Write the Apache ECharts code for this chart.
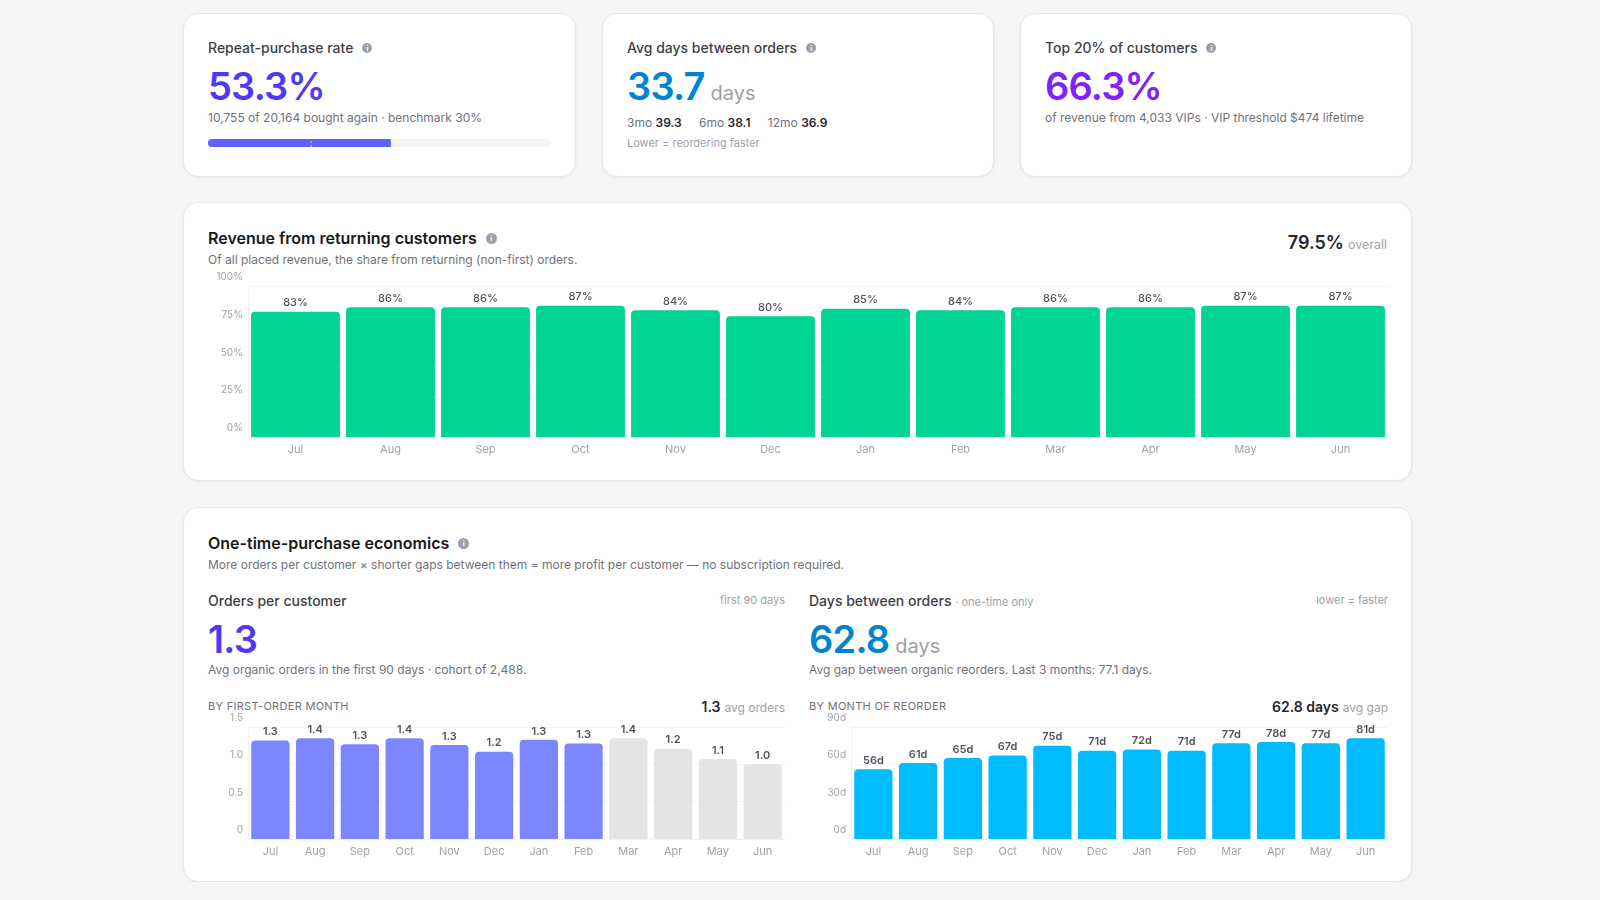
<!DOCTYPE html>
<html lang="en">
<head>
<meta charset="UTF-8">
<title>Repeat customers</title>
<script src="https://cdn.jsdelivr.net/npm/echarts@6/dist/echarts.min.js"></script>
<style>
  body { margin: 0; background: #f6f6f7; font-family: Inter, "Noto Sans", sans-serif; color: #3f3f46; }
  .wrap { width: 1229px; margin-left: 183px; padding-top: 13px; }
  .card { background: #fff; border: 1px solid #e7e7ea; border-radius: 15px; box-shadow: 0 1px 3px rgba(0,0,0,.05); box-sizing: border-box; position: relative; }
  .kpis { display: grid; grid-template-columns: repeat(3, 1fr); gap: 26px; }
  .kpi { height: 164px; padding: 24px 24px 0; }
  .kpi-title { font-size: 14px; line-height: 20px; font-weight: 500; color: #3f3f46; display: flex; align-items: center; }
  .info { display: inline-flex; width: 10px; height: 10px; border-radius: 50%; background: #9f9fa9; color: #fff; font-size: 7px; font-weight: 700; align-items: center; justify-content: center; margin-left: 9px; line-height: 1; }
  .big { font-size: 38px; line-height: 44px; font-weight: 600; letter-spacing: -0.8px; margin-top: 6px; }
  .big small { font-size: 20px; line-height: 20px; font-weight: 400; color: #9f9fa9; letter-spacing: 0; margin-left: 6px; }
  .sub { font-size: 12px; line-height: 18px; color: #71717b; margin-top: 1px; }
  .windows { font-size: 12px; line-height: 18px; color: #71717b; margin-top: 6px; }
  .windows b { color: #27272a; font-weight: 600; margin-right: 14px; }
  .hint { font-size: 11px; line-height: 16px; color: #a1a1aa; margin-top: 3px; }
  #progress { width: 343px; height: 8px; margin-top: 12px; }

  .section { padding: 24px 24px 0; margin-top: 25px; }
  .sec-title { font-size: 16px; line-height: 22px; font-weight: 600; color: #18181b; display: flex; align-items: center; }
  .sec-title .info { width: 11px; height: 11px; }
  .section > .sub { margin-top: 2px; }
  .overall { position: absolute; right: 24px; top: 28px; line-height: 24px; }
  .overall b { font-size: 18px; font-weight: 600; color: #27272a; }
  .overall span { font-size: 12.5px; color: #a1a1aa; margin-left: 4px; }
  #returning { position: absolute; left: 24px; top: 65px; width: 1180px; height: 194px; }

  .cols { display: grid; grid-template-columns: 577px 579px; gap: 24px; margin-top: 16px; }
  .col-head { display: flex; justify-content: space-between; align-items: center; height: 20px; }
  .col-head .name { font-size: 14px; font-weight: 500; color: #3f3f46; }
  .col-head .name span { font-size: 11px; font-weight: 400; color: #a1a1aa; }
  .col-head .note { font-size: 11px; color: #a1a1aa; }
  .cols .big { margin-top: 7px; }
  .cols .sub { margin-top: 0; }
  .chart-head { display: flex; justify-content: space-between; align-items: center; height: 16px; margin-top: 19px; }
  .chart-head .cap { font-size: 11px; letter-spacing: .3px; color: #71717b; text-transform: uppercase; }
  .chart-head .tot b { font-size: 14px; font-weight: 600; color: #27272a; }
  .chart-head .tot span { font-size: 12px; color: #a1a1aa; margin-left: 4px; }
  .mini { width: 100%; height: 152px; margin-top: -4px; }
</style>
</head>
<body>
<div class="wrap">
  <div class="kpis">
    <div class="card kpi">
      <div class="kpi-title">Repeat-purchase rate <span class="info">i</span></div>
      <div class="big" style="color:#4f39f6">53.3%</div>
      <div class="sub">10,755 of 20,164 bought again · benchmark 30%</div>
      <div id="progress"></div>
    </div>
    <div class="card kpi">
      <div class="kpi-title">Avg days between orders <span class="info">i</span></div>
      <div class="big" style="color:#0084d1">33.7<small>days</small></div>
      <div class="windows">3mo <b>39.3</b> 6mo <b>38.1</b> 12mo <b>36.9</b></div>
      <div class="hint">Lower = reordering faster</div>
    </div>
    <div class="card kpi">
      <div class="kpi-title">Top 20% of customers <span class="info">i</span></div>
      <div class="big" style="color:#7f22fe">66.3%</div>
      <div class="sub">of revenue from 4,033 VIPs · VIP threshold $474 lifetime</div>
    </div>
  </div>

  <div class="card section" style="height:279px">
    <div class="sec-title">Revenue from returning customers <span class="info">i</span></div>
    <div class="sub">Of all placed revenue, the share from returning (non-first) orders.</div>
    <div class="overall"><b>79.5%</b><span>overall</span></div>
    <div id="returning"></div>
  </div>

  <div class="card section" style="height:375px; margin-top:26px">
    <div class="sec-title">One-time-purchase economics <span class="info">i</span></div>
    <div class="sub">More orders per customer × shorter gaps between them = more profit per customer — no subscription required.</div>
    <div class="cols">
      <div>
        <div class="col-head"><div class="name">Orders per customer</div><div class="note">first 90 days</div></div>
        <div class="big" style="color:#4f39f6">1.3</div>
        <div class="sub">Avg organic orders in the first 90 days · cohort of 2,488.</div>
        <div class="chart-head"><div class="cap">By first-order month</div><div class="tot"><b>1.3</b><span>avg orders</span></div></div>
        <div class="mini" id="orders"></div>
      </div>
      <div>
        <div class="col-head"><div class="name">Days between orders <span>· one-time only</span></div><div class="note">lower = faster</div></div>
        <div class="big" style="color:#0084d1">62.8<small>days</small></div>
        <div class="sub">Avg gap between organic reorders. Last 3 months: 77.1 days.</div>
        <div class="chart-head"><div class="cap">By month of reorder</div><div class="tot"><b>62.8 days</b><span>avg gap</span></div></div>
        <div class="mini" id="gaps"></div>
      </div>
    </div>
  </div>
</div>

<script>
  // data
  const months = ['Jul', 'Aug', 'Sep', 'Oct', 'Nov', 'Dec', 'Jan', 'Feb', 'Mar', 'Apr', 'May', 'Jun'];
  const repeatRate = [53.3];
  const benchmarkRate = 30;
  const returningShare = [83, 86, 86, 87, 84, 80, 85, 84, 86, 86, 87, 87];
  const ordersPerCustomer = [1.32, 1.35, 1.27, 1.35, 1.26, 1.17, 1.33, 1.28, 1.35, 1.21, 1.07, 1.0];
  // cohorts that have had their full 90 days
  const cohortComplete = [true, true, true, true, true, true, true, true, false, false, false, false];
  const daysBetween = [56, 61, 65, 67, 75, 71, 72, 71, 77, 78, 77, 81];

  const gridLine = '#f4f4f5';
  const axisGray = '#a1a1aa';

  function yAxisStyle(min, max, interval, fmt) {
    return {
      type: 'value', min: min, max: max, interval: interval,
      axisLine: { show: true, lineStyle: { color: '#f0f0f1' } },
      axisTick: { show: false },
      splitLine: { lineStyle: { color: gridLine } },
      axisLabel: {
        color: axisGray, fontSize: 10, fontFamily: 'Inter', margin: 5,
        verticalAlign: 'bottom', lineHeight: 12, padding: [0, 0, 3, 0],
        formatter: fmt
      }
    };
  }

  function xAxisStyle() {
    return {
      type: 'category', data: months,
      axisLine: { lineStyle: { color: '#f0f0f1' } },
      axisTick: { show: false },
      axisLabel: { color: axisGray, fontSize: 11, fontFamily: 'Inter', margin: 6, lineHeight: 13 }
    };
  }

  function barLabel(fmt, weight) {
    return {
      show: true, position: 'top', distance: 3,
      fontSize: 11, fontFamily: 'Inter', fontWeight: weight, color: '#52525c',
      formatter: fmt
    };
  }

  // repeat-purchase progress
  (function () {
    const chart = echarts.init(document.getElementById('progress'));
    chart.setOption({
      animation: false,
      grid: { left: 0, right: 0, top: 0, bottom: 0 },
      xAxis: { type: 'value', min: 0, max: 100, show: false },
      yAxis: { type: 'category', data: ['rate'], show: false },
      series: [{
        type: 'bar', data: repeatRate, barWidth: 8,
        showBackground: true,
        backgroundStyle: { color: '#f4f4f5', borderRadius: 4 },
        itemStyle: { color: '#615fff', borderRadius: [4, 0, 0, 4] },
        markLine: {
          silent: true, symbol: 'none', label: { show: false },
          lineStyle: { color: '#f5a623', type: [2, 2], width: 1.5, opacity: 1 },
          data: [{ xAxis: benchmarkRate }]
        }
      }]
    });
  })();

  // revenue from returning customers
  (function () {
    const chart = echarts.init(document.getElementById('returning'));
    chart.setOption({
      animation: false,
      grid: { left: 40, right: 0, top: 18, bottom: 25 },
      xAxis: xAxisStyle(),
      yAxis: yAxisStyle(0, 100, 25, '{value}%'),
      series: [{
        type: 'bar', data: returningShare, barCategoryGap: '6.5%',
        itemStyle: { color: '#00d492', borderRadius: [4, 4, 0, 0] },
        label: barLabel('{c}%', 500)
      }]
    });
  })();

  // orders per customer
  (function () {
    const chart = echarts.init(document.getElementById('orders'));
    chart.setOption({
      animation: false,
      grid: { left: 40, right: 0, top: 17, bottom: 23 },
      xAxis: xAxisStyle(),
      yAxis: yAxisStyle(0, 1.5, 0.5, function (v) { return v === 0 ? '0' : v.toFixed(1); }),
      series: [{
        type: 'bar', barCategoryGap: '14.5%',
        data: ordersPerCustomer.map(function (v, i) {
          return { value: v, itemStyle: { color: cohortComplete[i] ? '#7c86ff' : '#e4e4e7' } };
        }),
        itemStyle: { borderRadius: [4, 4, 0, 0] },
        label: barLabel(function (p) { return p.value.toFixed(1); }, 600)
      }]
    });
  })();

  // days between orders
  (function () {
    const chart = echarts.init(document.getElementById('gaps'));
    chart.setOption({
      animation: false,
      grid: { left: 42, right: 0, top: 17, bottom: 23 },
      xAxis: xAxisStyle(),
      yAxis: yAxisStyle(0, 90, 30, '{value}d'),
      series: [{
        type: 'bar', data: daysBetween, barCategoryGap: '14.5%',
        itemStyle: { color: '#00bcff', borderRadius: [4, 4, 0, 0] },
        label: barLabel('{c}d', 600)
      }]
    });
  })();
</script>
</body>
</html>
